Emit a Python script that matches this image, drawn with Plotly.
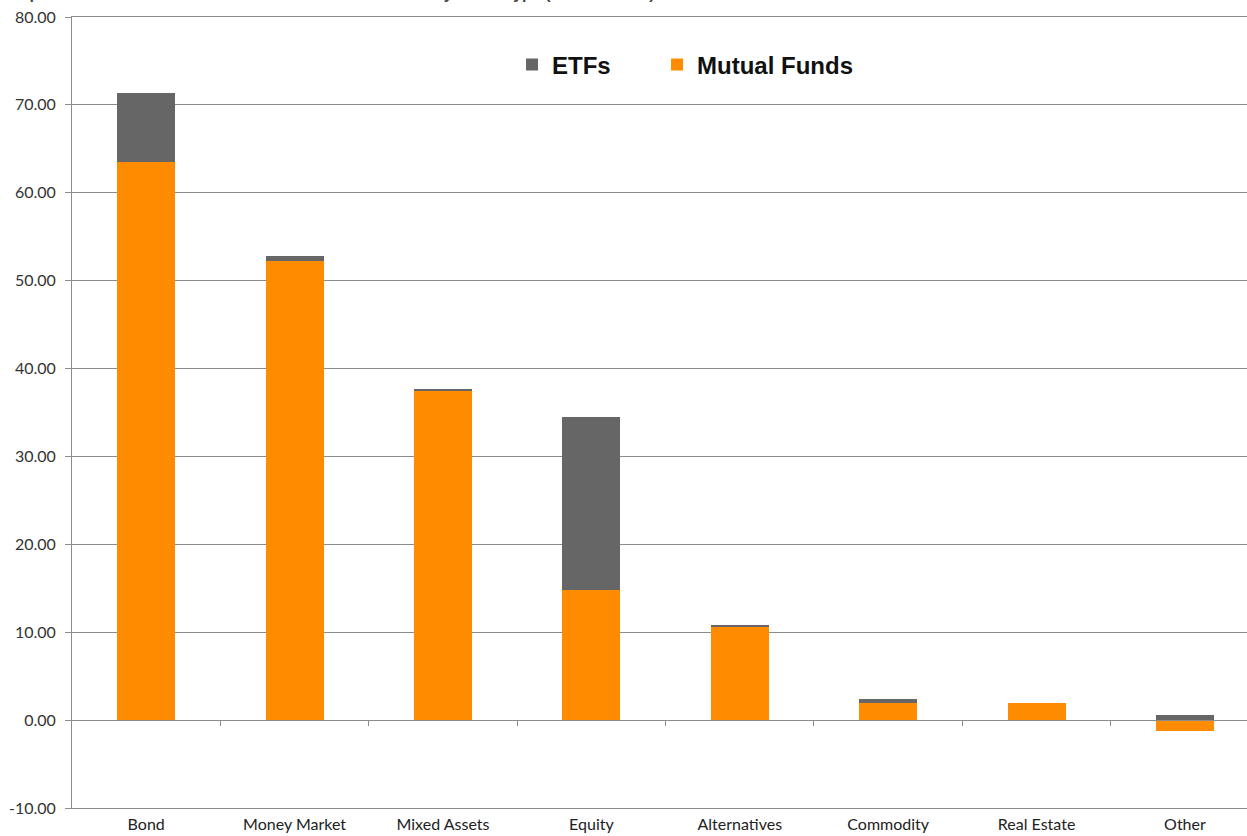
import plotly.graph_objects as go

# Net sales by asset type, euro billions
categories = ["Bond", "Money Market", "Mixed Assets", "Equity",
              "Alternatives", "Commodity", "Real Estate", "Other"]
mutual_funds = [63.45, 52.25, 37.45, 14.85, 10.60, 1.90, 2.00, -1.25]
etfs = [7.90, 0.55, 0.15, 19.60, 0.15, 0.45, 0.00, 0.55]

y_ticks = [-10, 0, 10, 20, 30, 40, 50, 60, 70, 80]
y_tick_labels = [f"{v:.2f}" for v in y_ticks]
category_bounds = [i + 0.5 for i in range(len(categories) - 1)]

ORANGE = "#FF8C00"
GREY = "#666666"
GRID = "#8C8C8C"
FONT = "Lato, Liberation Sans, sans-serif"
LEGEND_FONT = dict(family="Liberation Sans, Arial, sans-serif", size=24,
                   color="#111111", weight="bold")

fig = go.Figure()
fig.add_trace(go.Bar(x=list(range(len(categories))), y=mutual_funds,
                     name="Mutual Funds", marker=dict(color=ORANGE, line=dict(width=0)),
                     width=0.39, legend="legend2"))
fig.add_trace(go.Bar(x=list(range(len(categories))), y=etfs,
                     name="ETFs", marker=dict(color=GREY, line=dict(width=0)),
                     width=0.39, legend="legend"))
# helper trace so the zero-line axis carrying the category ticks is drawn
fig.add_trace(go.Scatter(x=[0], y=[0], xaxis="x2", mode="markers",
                         marker=dict(opacity=0), showlegend=False, hoverinfo="skip"))

x_range = [-0.5, 7.418]
legend_common = dict(orientation="h", y=0.9393, xanchor="left", yanchor="middle",
                     font=LEGEND_FONT, itemwidth=30, bgcolor="rgba(0,0,0,0)")

fig.update_layout(
    width=1247, height=836,
    margin=dict(l=72, r=0, t=17, b=28, autoexpand=False),
    paper_bgcolor="white", plot_bgcolor="white",
    barmode="relative",
    bargap=0,
    font=dict(family=FONT, size=16, color="#333333"),
    showlegend=True,
    legend=dict(x=0.3745, **legend_common),
    legend2=dict(x=0.4979, **legend_common),
    xaxis=dict(range=x_range, tickmode="array", automargin=False,
               tickvals=list(range(len(categories))), ticktext=categories,
               showgrid=False, zeroline=False, showline=True, mirror=True,
               linecolor=GRID, linewidth=1,
               ticks="outside", ticklen=2, tickcolor="rgba(0,0,0,0)",
               tickfont=dict(family=FONT, size=16, color="#222222")),
    xaxis2=dict(range=x_range, overlaying="x", anchor="free", position=10 / 90,
                side="bottom", tickmode="array", tickvals=category_bounds,
                showticklabels=False, ticks="outside", ticklen=5, tickcolor=GRID,
                showline=True, linecolor=GRID, linewidth=1, automargin=False,
                showgrid=False, zeroline=False),
    yaxis=dict(range=[-10, 80], tickmode="array", tickvals=y_ticks, automargin=False,
               ticktext=y_tick_labels, showgrid=True, gridcolor=GRID, gridwidth=1,
               zeroline=False, showline=True, linecolor=GRID, linewidth=1,
               ticks="outside", ticklen=6, tickcolor=GRID, ticklabelstandoff=6,
               tickfont=dict(family=FONT, size=16, color="#333333")),
    annotations=[dict(
        text="Graph 1: Estimated Net Sales of Mutual Funds and ETFs by Asset Type (Euro Billions)",
        xref="paper", yref="paper", x=0, y=1, xshift=-72, yshift=13,
        xanchor="left", yanchor="bottom", showarrow=False,
        font=dict(family="Liberation Sans, Arial, sans-serif", size=16, color="#444444",
                  weight="bold"))],
)

fig.write_html("out.html")
